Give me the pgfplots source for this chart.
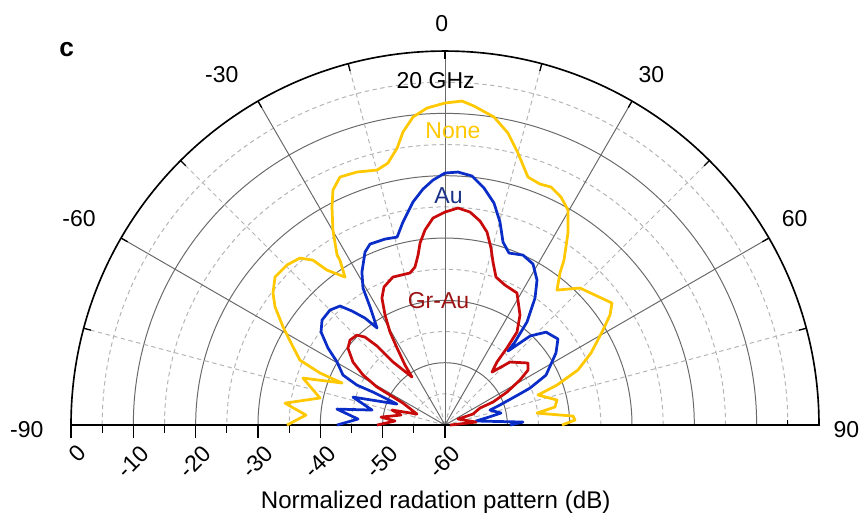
\documentclass[border=0pt]{standalone}
\usepackage{pgfplots}
\pgfplotsset{compat=1.18}
\usepackage{pgfplotstable}
\usepackage{fontspec}
\setmainfont{Liberation Sans}
\definecolor{cnone}{RGB}{255,200,0}
\definecolor{cau}{RGB}{10,45,200}
\definecolor{cgr}{RGB}{200,10,10}
\definecolor{tau}{RGB}{25,50,135}
\definecolor{tgr}{RGB}{155,20,20}
\definecolor{gsolid}{RGB}{105,105,105}
\definecolor{gdash}{RGB}{180,180,180}

% angle (deg, 0 = top, clockwise positive), normalized pattern (dB)
\pgfplotstableread{
ang db
-90 -34.65
-85.9 -37.64
-82.2 -34.09
-77.8 -39.48
-71.7 -36.0
-67.8 -42.16
-67.4 -38.28
-65.9 -34.51
-62.8 -32.59
-58.8 -29.63
-55.2 -26.8
-52.5 -25.22
-48.95 -23.84
-44.6 -23.92
-41.0 -24.51
-38.7 -26.1
-37.3 -28.75
-34.05 -31.35
-32.5 -28.62
-32.4 -27.69
-29.9 -23.92
-27.4 -20.61
-25.5 -18.24
-22.95 -16.79
-19.2 -17.02
-14.9 -17.66
-12.3 -16.99
-9.8 -14.9
-8.16 -12.51
-5.93 -10.32
-3.25 -9.06
0 -8.34
3.0 -7.95
5.19 -8.61
9.04 -9.96
12.17 -12.08
15.02 -14.82
18.5 -18.05
21.5 -18.44
24.0 -18.2
26.96 -18.96
29.78 -20.26
32.64 -23.42
35.8 -27.36
37.1 -29.42
39.68 -31.86
44.58 -29.14
53.85 -26.82
56.3 -28.18
58.98 -30.42
63.75 -33.88
67.5 -36.91
70.35 -40.92
72.1 -44.32
77.4 -41.59
80.7 -42.12
82.6 -45.11
86.0 -39.41
87.8 -39.13
90 -41.23
}\tabnone

\pgfplotstableread{
ang db
-90 -42.67
-86.05 -46.01
-81.6 -42.48
-78.4 -48.05
-73.1 -44.57
-66.4 -51.59
-65.4 -47.29
-65.6 -44.49
-63.9 -41.77
-59.7 -39.94
-56.65 -37.53
-53.1 -35.13
-49.5 -34.06
-45 -33.91
-41.4 -34.54
-39.2 -36.4
-36.8 -38.57
-35.0 -40.99
-32.4 -37.57
-30.9 -34.38
-28.5 -32.07
-24.8 -29.42
-22.5 -28.57
-17.9 -28.65
-14.3 -28.88
-11.7 -26.74
-8.17 -23.85
-5.33 -21.98
-2.8 -20.65
0 -19.57
2.94 -19.36
6.19 -19.81
9.34 -21.46
12.45 -23.53
15.16 -26.26
17.59 -29.2
20.41 -30.56
24.65 -30.0
28.66 -30.56
32.4 -32.45
35.33 -35.02
38.5 -38.87
40.1 -42.58
40.4 -44.41
43.7 -40.25
47.4 -37.97
52.7 -37.22
57.0 -38.77
63.7 -41.92
66.5 -45.13
67.6 -47.34
70.3 -50.97
71.6 -52.39
77.9 -50.81
79.7 -52.83
82.6 -54.98
87.8 -47.47
90 -49.57
}\tabau

\pgfplotstableread{
ang db
-90 -49.09
-85.4 -51.95
-82.9 -49.65
-77.2 -52.76
-74.2 -51.16
-68.6 -55.17
-62.4 -52.39
-61.4 -49.95
-60.8 -47.5
-58.6 -44.6
-55.6 -42.11
-51.6 -40.13
-48.2 -39.55
-44.4 -39.8
-42.3 -40.92
-40.7 -43.28
-39.5 -46.89
-34.5 -50.66
-33.7 -48.43
-31.9 -45.45
-30.6 -42.67
-28.6 -39.9
-26.4 -37.25
-23.85 -35.79
-19.4 -34.83
-13.0 -34.97
-10.75 -34.2
-9.0 -32.39
-7.8 -30.53
-5.86 -28.55
-3.32 -26.74
0 -25.83
3.43 -25.12
6.69 -25.59
9.74 -26.79
12.28 -28.31
14.57 -30.66
16.41 -32.74
19.01 -34.89
23.2 -35.57
28.6 -35.87
34.3 -38.65
37.75 -41.13
38.8 -44.13
39.5 -46.89
41.6 -48.64
45.9 -45.48
53.2 -43.38
56.5 -44.02
59.0 -45.96
62.0 -48.74
64.4 -51.46
64.1 -53.76
68.55 -55.17
65.2 -57.7
84.5 -55.0
90 -59.2
}\tabgr

\begin{document}
\begin{tikzpicture}[font=\fontsize{10.5}{12}\selectfont]
\begin{axis}[
  x=1mm, y=1mm,
  xmin=-71.39, xmax=66.90, ymin=-14.44, ymax=68.19,
  hide axis, clip=false,
]
\coordinate (BL) at (axis cs:-71.39,-14.44);
\coordinate (TR) at (axis cs:66.90,68.19);
% dashed circles
\pgfplotsinvokeforeach{5,15,25,35,45,55}{
  \draw[gdash, line width=0.45pt, dash pattern=on 2pt off 1.6pt] (axis cs:#1,0) arc[start angle=0,end angle=180,radius=#1 mm];
}
% solid circles
\pgfplotsinvokeforeach{10,20,30,40,50}{
  \draw[gsolid, line width=0.45pt] (axis cs:#1,0) arc[start angle=0,end angle=180,radius=#1 mm];
}
% dashed spokes
\pgfplotsinvokeforeach{15,45,75,105,135,165}{
  \draw[gdash, line width=0.45pt, dash pattern=on 2pt off 1.6pt] (axis cs:0,0) -- ++(#1:60mm);
}
% solid spokes
\pgfplotsinvokeforeach{30,60,90,120,150}{
  \draw[gsolid, line width=0.45pt] (axis cs:0,0) -- ++(#1:60mm);
}
% outer ticks
\pgfplotsinvokeforeach{15,30,45,60,75,90,105,120,135,150,165}{
  \draw[black, line width=0.6pt] (axis cs:0,0) ++(#1:60mm) -- ++(#1+180:1.2mm);
}
% outer frame
\draw[black, line width=0.75pt] (axis cs:-60,0) -- (axis cs:60,0) arc[start angle=0,end angle=180,radius=60mm];
% baseline ticks
\pgfplotsinvokeforeach{-60,-50,-40,-30,-20,-10,0}{
  \draw[black, line width=0.6pt] (axis cs:#1,0) -- ++(270:2.1mm);
}
\pgfplotsinvokeforeach{-55,-45,-35,-25,-15,-5}{
  \draw[black, line width=0.6pt] (axis cs:#1,0) -- ++(270:1.3mm);
}
\draw[black, line width=0.6pt] (axis cs:55,0) -- ++(90:0.8mm);

% curves
\addplot[cnone, line width=1.25pt, line join=round, mark=none]
  table[x expr={(\thisrow{db}+60)*sin(\thisrow{ang})}, y expr={(\thisrow{db}+60)*cos(\thisrow{ang})}] {\tabnone};
\addplot[cau, line width=1.25pt, line join=round, mark=none]
  table[x expr={(\thisrow{db}+60)*sin(\thisrow{ang})}, y expr={(\thisrow{db}+60)*cos(\thisrow{ang})}] {\tabau};
\addplot[cgr, line width=1.25pt, line join=round, mark=none]
  table[x expr={(\thisrow{db}+60)*sin(\thisrow{ang})}, y expr={(\thisrow{db}+60)*cos(\thisrow{ang})}] {\tabgr};

% angle labels
\node at (axis cs:-0.5,64.4) {0};
\node at (axis cs:-35.8,56.2) {-30};
\node at (axis cs:33.1,56.3) {30};
\node at (axis cs:-58.7,33.1) {-60};
\node at (axis cs:56.1,33.1) {60};
\node at (axis cs:-67.1,-0.8) {-90};
\node at (axis cs:64.4,-0.7) {90};
% radial labels
\node[rotate=45, anchor=east, inner sep=1pt] at (axis cs:-57.9,-3.6) {0};
\node[rotate=45, anchor=east, inner sep=1pt] at (axis cs:-47.9,-3.7) {-10};
\node[rotate=45, anchor=east, inner sep=1pt] at (axis cs:-37.9,-3.7) {-20};
\node[rotate=45, anchor=east, inner sep=1pt] at (axis cs:-27.9,-3.7) {-30};
\node[rotate=45, anchor=east, inner sep=1pt] at (axis cs:-17.9,-3.7) {-40};
\node[rotate=45, anchor=east, inner sep=1pt] at (axis cs:-7.9,-3.7) {-50};
\node[rotate=45, anchor=east, inner sep=1pt] at (axis cs:2.1,-3.7) {-60};
\node[font=\fontsize{11}{13}\selectfont] at (axis cs:-1.5,-12.4) {Normalized radation pattern (dB)};
% other texts
\node[font=\fontsize{12}{14}\selectfont\bfseries] at (axis cs:-60.7,60.2) {c};
\node at (axis cs:-1.5,55.2) {20 GHz};
\node[text=cnone] at (axis cs:1.28,47.2) {None};
\node[text=tau] at (axis cs:0.56,36.8) {Au};
\node[text=tgr] at (axis cs:-1.04,20.0) {Gr-Au};
\end{axis}
\pgfresetboundingbox
\path (BL) rectangle (TR);
\end{tikzpicture}
\end{document}
